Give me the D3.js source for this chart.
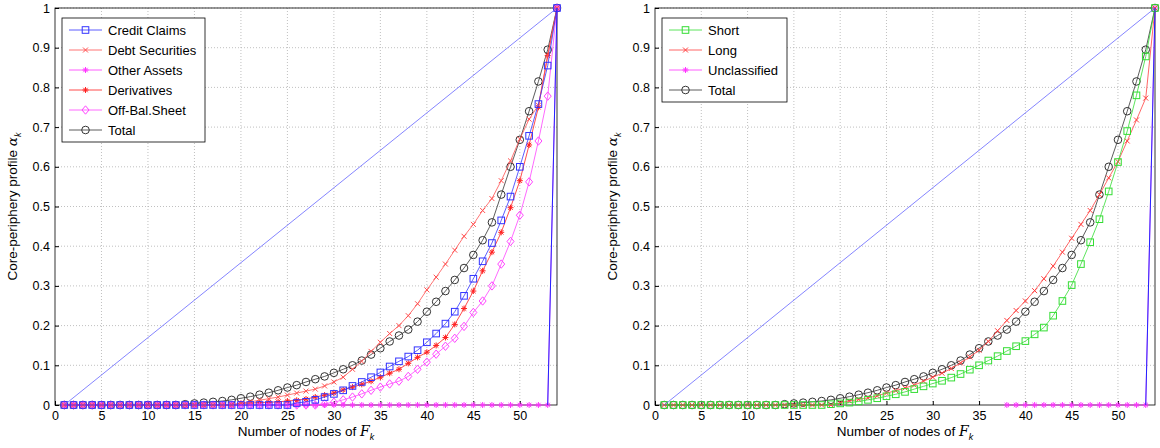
<!DOCTYPE html>
<html><head><meta charset="utf-8">
<script src="https://cdn.jsdelivr.net/npm/d3@7"></script>
<style>body{margin:0;background:#fff;font-family:"Liberation Sans",Arial,sans-serif}</style>
</head><body><div id="root"></div>
<script>
// node counts 1..54
const nodes = d3.range(1, 55);
const pad = (start, vals) => nodes.map(n => n < start ? 0 : vals[n - start]);

// left panel series
const totalVals = pad(14, [0.002,0.004,0.006,0.008,0.01,0.013,0.017,0.021,0.026,0.031,0.037,0.044,0.05,0.058,0.065,0.072,0.081,0.09,0.1,0.112,0.127,0.143,0.16,0.175,0.19,0.21,0.235,0.26,0.287,0.315,0.345,0.378,0.415,0.46,0.53,0.6,0.668,0.74,0.815,0.895,1]);
const creditVals = pad(26, [0.005,0.008,0.013,0.02,0.028,0.037,0.048,0.058,0.07,0.082,0.097,0.11,0.122,0.138,0.158,0.18,0.205,0.235,0.275,0.318,0.362,0.408,0.465,0.525,0.6,0.678,0.758,0.855,1]);
const debtVals = pad(20, [0.005,0.008,0.012,0.016,0.02,0.025,0.03,0.035,0.04,0.048,0.058,0.07,0.09,0.11,0.135,0.158,0.18,0.2,0.225,0.255,0.29,0.322,0.355,0.39,0.425,0.455,0.49,0.52,0.565,0.615,0.67,0.72,0.755,0.88,1]);
const otherVals = pad(54, [1]);
const derivVals = pad(20, [0.004,0.005,0.006,0.007,0.008,0.01,0.012,0.015,0.02,0.025,0.03,0.038,0.045,0.052,0.06,0.07,0.08,0.09,0.105,0.12,0.133,0.15,0.17,0.203,0.243,0.287,0.338,0.385,0.435,0.497,0.565,0.655,0.75,0.88,1]);
const offVals = pad(29, [0.003,0.007,0.013,0.02,0.028,0.037,0.045,0.053,0.06,0.072,0.09,0.108,0.128,0.148,0.168,0.198,0.233,0.262,0.3,0.355,0.412,0.478,0.562,0.665,0.778,1]);

// right panel series
const shortVals = pad(19, [0.002,0.004,0.006,0.009,0.013,0.017,0.022,0.027,0.033,0.04,0.047,0.054,0.061,0.069,0.078,0.089,0.1,0.112,0.123,0.136,0.148,0.161,0.178,0.195,0.225,0.262,0.302,0.355,0.41,0.468,0.538,0.612,0.69,0.78,0.878,1]);
const longVals = pad(20, [0.006,0.01,0.014,0.018,0.023,0.03,0.036,0.043,0.05,0.06,0.07,0.08,0.092,0.106,0.121,0.138,0.16,0.187,0.213,0.238,0.262,0.288,0.318,0.35,0.385,0.42,0.455,0.49,0.53,0.572,0.613,0.665,0.718,0.773,1]);
const unclassVals = nodes.map(n => n < 38 ? null : (n < 54 ? 0 : 1));

// reference lines
const diagX = [1, 54], diagY = [0, 1];
const vertX = [53, 54], vertY = [0, 1];

const xTicks = d3.range(0, 55, 5);
const yTicks = d3.range(0, 11).map(i => i / 10);

const panels = [
  { left: 55, right: 557, legendW: 143, series: [
    { name: "Credit Claims", vals: creditVals, color: "#3333ff", marker: "square" },
    { name: "Debt Securities", vals: debtVals, color: "#ff5050", marker: "x" },
    { name: "Other Assets", vals: otherVals, color: "#ff33ff", marker: "star" },
    { name: "Derivatives", vals: derivVals, color: "#ff2020", marker: "star" },
    { name: "Off-Bal.Sheet", vals: offVals, color: "#ff44ff", marker: "diamond" },
    { name: "Total", vals: totalVals, color: "#333333", marker: "circle" }
  ]},
  { left: 655, right: 1155, legendW: 125, series: [
    { name: "Short", vals: shortVals, color: "#33dd33", marker: "square" },
    { name: "Long", vals: longVals, color: "#ff4040", marker: "x" },
    { name: "Unclassified", vals: unclassVals, color: "#ff33ff", marker: "star" },
    { name: "Total", vals: totalVals, color: "#333333", marker: "circle" }
  ]}
];

const plotTop = 8, plotBottom = 405;
const svg = d3.select("#root").append("svg").attr("width", 1160).attr("height", 448);

function drawMarker(g, type, x, y, color) {
  const s = 3.3;
  if (type === "square") g.append("rect").attr("x", x - s).attr("y", y - s).attr("width", 2 * s).attr("height", 2 * s).attr("fill", "none").attr("stroke", color);
  else if (type === "circle") g.append("circle").attr("cx", x).attr("cy", y).attr("r", 3.8).attr("fill", "none").attr("stroke", color);
  else if (type === "diamond") g.append("path").attr("d", `M${x},${y-4.2}L${x+3.5},${y}L${x},${y+4.2}L${x-3.5},${y}Z`).attr("fill", "none").attr("stroke", color);
  else if (type === "x") g.append("path").attr("d", `M${x-2.5},${y-2.5}L${x+2.5},${y+2.5}M${x-2.5},${y+2.5}L${x+2.5},${y-2.5}`).attr("stroke", color);
  else g.append("path").attr("d", `M${x-3},${y}L${x+3},${y}M${x},${y-3}L${x},${y+3}M${x-2.2},${y-2.2}L${x+2.2},${y+2.2}M${x-2.2},${y+2.2}L${x+2.2},${y-2.2}`).attr("stroke", color);
}

panels.forEach(p => {
  const x = d3.scaleLinear().domain([0, 54]).range([p.left, p.right]);
  const y = d3.scaleLinear().domain([0, 1]).range([plotBottom, plotTop]);
  const g = svg.append("g");

  // grid
  g.append("g").selectAll("line").data(xTicks.slice(1)).join("line")
    .attr("x1", d => x(d)).attr("x2", d => x(d)).attr("y1", plotTop).attr("y2", plotBottom)
    .attr("stroke", "#b0b0b0").attr("stroke-dasharray", "1,2").attr("stroke-width", 0.8);
  g.append("g").selectAll("line").data(yTicks.slice(1)).join("line")
    .attr("x1", p.left).attr("x2", p.right).attr("y1", d => y(d)).attr("y2", d => y(d))
    .attr("stroke", "#b0b0b0").attr("stroke-dasharray", "1,2").attr("stroke-width", 0.8);

  // axes with inward ticks
  const ax = g.append("g").attr("transform", `translate(0,${plotBottom})`)
    .call(d3.axisBottom(x).tickValues(xTicks).tickSizeInner(-4).tickSizeOuter(0).tickPadding(6));
  const ay = g.append("g").attr("transform", `translate(${p.left},0)`)
    .call(d3.axisLeft(y).tickValues(yTicks).tickFormat(d => d === 0 ? "0" : d === 1 ? "1" : d3.format(".1f")(d)).tickSizeInner(-4).tickSizeOuter(0).tickPadding(5));
  [ax, ay].forEach(a => { a.select(".domain").remove(); a.selectAll("text").attr("font-size", 12.5).attr("font-family", "Liberation Sans, Arial"); });
  g.append("rect").attr("x", p.left).attr("y", plotTop).attr("width", p.right - p.left).attr("height", plotBottom - plotTop)
    .attr("fill", "none").attr("stroke", "#000").attr("stroke-width", 0.8);

  // series (draw last first so Total sits under)
  p.series.slice().reverse().forEach(s => {
    const pts = nodes.map((n, i) => [n, s.vals[i]]);
    const line = d3.line().defined(d => d[1] !== null).x(d => x(d[0])).y(d => y(d[1]));
    g.append("path").attr("d", line(pts)).attr("stroke", s.color).attr("stroke-width", 0.8).attr("fill", "none");
    const mg = g.append("g");
    pts.filter(d => d[1] !== null).forEach(d => drawMarker(mg, s.marker, x(d[0]), y(d[1]), s.color));
  });

  // reference lines on top
  const ref = d3.line().x(d => x(d[0])).y(d => y(d[1]));
  g.append("path").attr("d", ref(d3.zip(diagX, diagY))).attr("stroke", "#6666ff").attr("stroke-width", 0.8).attr("fill", "none");
  g.append("path").attr("d", ref(d3.zip(vertX, vertY))).attr("stroke", "#2222ff").attr("stroke-width", 1).attr("fill", "none");

  // labels
  const lab = g.append("text").attr("x", (p.left + p.right) / 2).attr("y", 436).attr("text-anchor", "middle").attr("font-size", 13.5);
  lab.append("tspan").text("Number of nodes of ");
  lab.append("tspan").attr("font-style", "italic").attr("font-family", "DejaVu Serif").attr("font-size", 14).text("F");
  lab.append("tspan").attr("font-style", "italic").attr("font-size", 9).attr("dy", 4).text("k");
  const ylab = g.append("text").attr("transform", `translate(${p.left - 38},${(plotTop + plotBottom) / 2}) rotate(-90)`).attr("text-anchor", "middle").attr("font-size", 13.5);
  ylab.append("tspan").text("Core-periphery profile ");
  ylab.append("tspan").attr("font-style", "italic").attr("font-family", "DejaVu Serif").text("α");
  ylab.append("tspan").attr("font-style", "italic").attr("font-size", 9).attr("dy", 4).text("k");

  // legend
  const lx = p.left + 7, ly = 18, rowH = 20;
  const lg = g.append("g");
  lg.append("rect").attr("x", lx).attr("y", ly).attr("width", p.legendW).attr("height", p.series.length * rowH + 4)
    .attr("fill", "#fff").attr("stroke", "#000").attr("stroke-width", 0.8);
  p.series.forEach((s, i) => {
    const cy = ly + 12 + i * rowH;
    lg.append("line").attr("x1", lx + 7).attr("x2", lx + 40).attr("y1", cy).attr("y2", cy).attr("stroke", s.color).attr("stroke-width", 0.8);
    drawMarker(lg, s.marker, lx + 23.5, cy, s.color);
    lg.append("text").attr("x", lx + 46).attr("y", cy + 4.5).attr("font-size", 13).text(s.name);
  });
});
</script></body></html>
